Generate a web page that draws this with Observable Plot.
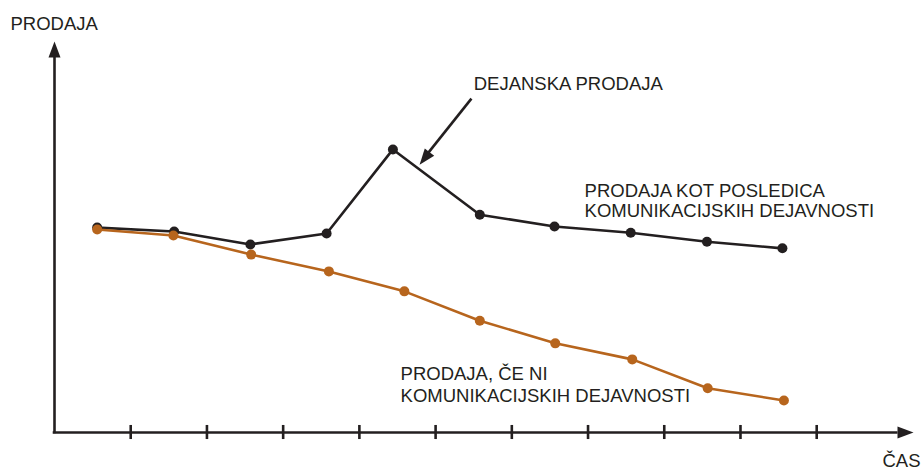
<!DOCTYPE html>
<html><head><meta charset="utf-8">
<script src="https://cdn.jsdelivr.net/npm/d3@7"></script>
<script src="https://cdn.jsdelivr.net/npm/@observablehq/plot@0.6"></script>
<style>html,body{margin:0;padding:0;background:#fff}</style>
</head><body><div id="chart"></div>
<script>
// ---- data ----
const actualTime = [0.56, 1.57, 2.57, 3.57, 4.44, 5.58, 6.56, 7.56, 8.56, 9.55];
const actualSales = [52.4, 51.4, 48.1, 50.9, 72.4, 55.7, 52.7, 51.1, 48.8, 47.1];
const baseTime = [0.56, 1.56, 2.58, 3.60, 4.59, 5.58, 6.57, 7.58, 8.57, 9.57];
const baseSales = [51.9, 50.4, 45.5, 41.2, 36.1, 28.6, 22.8, 18.7, 11.3, 8.2];
const tickTimes = [1, 2, 3, 4, 5, 6, 7, 8, 9, 10];
const yLabel = "PRODAJA";
const xLabel = "ČAS";
const labelActual = "DEJANSKA PRODAJA";
const labelWith = "PRODAJA KOT POSLEDICA\nKOMUNIKACIJSKIH DEJAVNOSTI";
const labelWithout = "PRODAJA, ČE NI\nKOMUNIKACIJSKIH DEJAVNOSTI";
// annotation anchors (data units)
const labelActualPos = {t: 5.50, v: 87.5};
const labelWithPos = {t: 6.955, v: 55.2};
const labelWithoutPos = {t: 4.54, v: 7.9};
const pointerFrom = {t: 5.47, v: 85.4};
const pointerTo = {t: 4.79, v: 68.5};
const pointerBase = {t: 4.89, v: 71.2};

const INK = "#231f20";
const ORANGE = "#b7651d";

const actual = actualTime.map((t, i) => ({t, v: actualSales[i]}));
const base = baseTime.map((t, i) => ({t, v: baseSales[i]}));

// filled arrowhead, tip at origin, pointing up
const head = {draw(ctx) { ctx.moveTo(0, 0); ctx.lineTo(6, 16); ctx.lineTo(-6, 16); ctx.closePath(); }};

const font = "'Liberation Sans', Arial, Helvetica, sans-serif";

const chart = Plot.plot({
  width: 921,
  height: 469,
  marginLeft: 54,
  marginRight: 8,
  marginTop: 41,
  marginBottom: 37,
  x: {domain: [0, 11.27], axis: null},
  y: {domain: [0, 100], axis: null},
  style: {fontFamily: font, background: "#fff", color: INK},
  marks: [
    // axes
    Plot.ruleX([0], {y1: 0, y2: 97.5, stroke: INK, strokeWidth: 2.6, strokeLinecap: "square"}),
    Plot.ruleY([0], {x1: 0, x2: 11.05, stroke: INK, strokeWidth: 2.6, strokeLinecap: "square"}),
    Plot.dot([{t: 0, v: 100}], {x: "t", y: "v", symbol: head, fill: INK, stroke: "none"}),
    Plot.dot([{t: 11.27, v: 0}], {x: "t", y: "v", symbol: head, fill: INK, stroke: "none", rotate: 90}),
    Plot.ruleX(tickTimes, {y1: -1.8, y2: 1.8, stroke: INK, strokeWidth: 2.6}),
    // series
    Plot.line(actual, {x: "t", y: "v", stroke: INK, strokeWidth: 2.6}),
    Plot.dot(actual, {x: "t", y: "v", r: 5, fill: INK, stroke: "none"}),
    Plot.line(base, {x: "t", y: "v", stroke: ORANGE, strokeWidth: 2.6}),
    Plot.dot(base, {x: "t", y: "v", r: 5, fill: ORANGE, stroke: "none"}),
    // pointer arrow
    Plot.link([{}], {x1: () => pointerFrom.t, y1: () => pointerFrom.v, x2: () => pointerBase.t, y2: () => pointerBase.v, stroke: INK, strokeWidth: 2.6}),
    Plot.dot([pointerTo], {x: "t", y: "v", symbol: head, fill: INK, stroke: "none", rotate: 218.2}),
    // labels
    Plot.text([labelActual], {x: labelActualPos.t, y: labelActualPos.v, text: d => d, textAnchor: "start", lineAnchor: "bottom", fontSize: 18.5, fill: INK}),
    Plot.text([labelWith], {x: labelWithPos.t, y: labelWithPos.v, text: d => d, textAnchor: "start", lineAnchor: "bottom", lineHeight: 1.07, fontSize: 18.5, fill: INK}),
    Plot.text([labelWithout], {x: labelWithoutPos.t, y: labelWithoutPos.v, text: d => d, textAnchor: "start", lineAnchor: "bottom", lineHeight: 1.18, fontSize: 18.5, fill: INK}),
    Plot.text([yLabel], {frameAnchor: "top-left", text: d => d, textAnchor: "start", lineAnchor: "bottom", dx: -44, dy: -12, fontSize: 18.5, fill: INK}),
    Plot.text([xLabel], {frameAnchor: "bottom-right", text: d => d, textAnchor: "end", lineAnchor: "bottom", dx: 7, dy: 34, fontSize: 18.5, fill: INK})
  ]
});
document.getElementById("chart").appendChild(chart);
</script>
</body></html>
